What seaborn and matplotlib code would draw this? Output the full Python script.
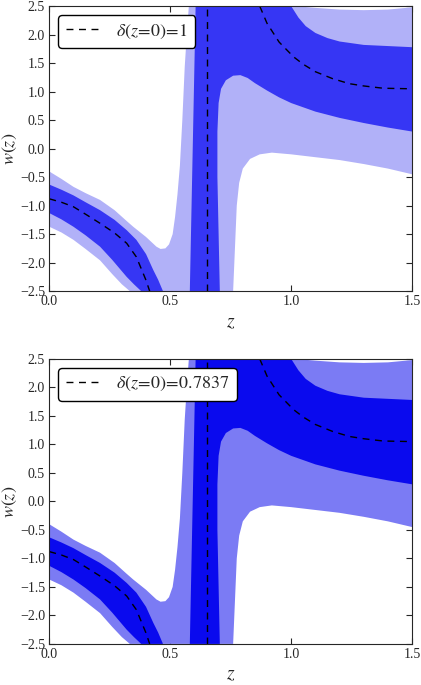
import matplotlib
matplotlib.use("Agg")
import matplotlib.pyplot as plt
import seaborn as sns
import numpy as np

sns.set_style("ticks")
plt.rcParams['font.family'] = ['Liberation Serif', 'DejaVu Serif']
plt.rcParams['mathtext.fontset'] = 'stix'

# 2-sigma (light) region outline
light_z = [0.0, 0.05, 0.10, 0.15, 0.21, 0.26, 0.30, 0.333,
           0.76, 0.765, 0.77, 0.775, 0.785, 0.80, 0.83, 0.87, 0.92, 1.0, 1.1, 1.2, 1.3, 1.4, 1.5,
           1.5, 1.4, 1.3, 1.2, 1.1, 1.02,
           0.577, 0.57, 0.56, 0.55, 0.54, 0.53, 0.52, 0.51, 0.495, 0.48, 0.46, 0.443, 0.40, 0.347,
           0.32, 0.27, 0.21, 0.15, 0.10, 0.05, 0.0]
light_w = [-1.37, -1.47, -1.60, -1.76, -1.96, -2.20, -2.38, -2.5,
           -2.5, -2.0, -1.5, -1.0, -0.6, -0.35, -0.18, -0.10, -0.07, -0.10, -0.15, -0.20, -0.27, -0.35, -0.45,
           2.48, 2.44, 2.43, 2.44, 2.47, 2.5,
           2.5, 2.1, 1.44, 0.5, -0.3, -0.8, -1.2, -1.5, -1.68, -1.75, -1.76, -1.72, -1.55, -1.37,
           -1.27, -1.08, -0.90, -0.78, -0.67, -0.53, -0.40]
# 1-sigma (dark) left branch
darkL_z = [0.0, 0.05, 0.10, 0.15, 0.21, 0.27, 0.32, 0.36, 0.40, 0.43, 0.45, 0.47,
           0.38, 0.35, 0.32, 0.26, 0.21, 0.15, 0.10, 0.05, 0.0]
darkL_w = [-0.63, -0.72, -0.82, -0.94, -1.08, -1.25, -1.43, -1.60, -1.85, -2.13, -2.30, -2.5,
           -2.5, -2.38, -2.25, -1.95, -1.72, -1.52, -1.37, -1.24, -1.13]
# 1-sigma (dark) column + right branch
darkR_z = [0.581, 0.605, 1.0, 1.03, 1.06, 1.10, 1.15, 1.20, 1.30, 1.40, 1.5,
           1.5, 1.4, 1.3, 1.2, 1.1, 1.0, 0.95, 0.90, 0.85, 0.82, 0.79, 0.76, 0.73, 0.71, 0.70,
           0.695, 0.695, 0.70, 0.705]
darkR_w = [-2.5, 2.5, 2.5, 2.30, 2.15, 2.03, 1.94, 1.88, 1.82, 1.80, 1.78,
           0.30, 0.37, 0.45, 0.54, 0.65, 0.80, 0.90, 1.02, 1.15, 1.24, 1.29, 1.28, 1.20, 1.05, 0.80,
           0.3, -0.5, -1.5, -2.5]
# best fit (dashed)
fitL_z = [0.0, 0.05, 0.10, 0.15, 0.21, 0.27, 0.32, 0.36, 0.40, 0.415]
fitL_w = [-0.88, -0.94, -1.02, -1.15, -1.31, -1.48, -1.66, -1.90, -2.31, -2.5]
fitR_z = [0.87, 0.90, 0.95, 1.01, 1.05, 1.10, 1.17, 1.24, 1.30, 1.38, 1.5]
fitR_w = [2.5, 2.2, 1.87, 1.61, 1.48, 1.35, 1.23, 1.14, 1.10, 1.06, 1.05]
pole_z = 0.65
labels = [r'$\delta(z\!=\!0)\!=\!1$', r'$\delta(z\!=\!0)\!=\!0.7837$']
light_cols = ['#b1b1f8', '#7b7bf4']
dark_cols = ['#3636f4', '#0a0aee']

fig = plt.figure(figsize=(4.21, 6.85), dpi=100)
rects = [[0.117, 0.575, 0.862, 0.416], [0.117, 0.060, 0.862, 0.416]]
for i in range(2):
    ax = fig.add_axes(rects[i])
    ax.fill(light_z, light_w, color=light_cols[i], lw=0)
    ax.fill(darkL_z, darkL_w, color=dark_cols[i], lw=0)
    ax.fill(darkR_z, darkR_w, color=dark_cols[i], lw=0)
    sns.lineplot(x=fitL_z, y=fitL_w, ax=ax, color='k', lw=1, label=labels[i], sort=False)
    sns.lineplot(x=fitR_z, y=fitR_w, ax=ax, color='k', lw=1, sort=False)
    for ln in ax.lines:
        ln.set_dashes((5, 4))
    ax.axvline(pole_z, color='k', lw=1, dashes=(5, 4))
    ax.set_xlim(0, 1.5)
    ax.set_ylim(-2.5, 2.5)
    ax.set_xticks([0.0, 0.5, 1.0, 1.5])
    ax.set_yticks(np.arange(-2.5, 2.51, 0.5))
    ax.tick_params(direction='in', top=True, right=True, labelsize=10, length=4, pad=3)
    ax.set_xlabel(r'$z$', fontsize=14)
    ax.set_ylabel(r'$w(z)$', fontsize=13, labelpad=1)
    leg = ax.legend(loc='upper left', fontsize=13, frameon=True, fancybox=True, framealpha=1,
                    edgecolor='k', handlelength=2)
    leg.get_frame().set_linewidth(1)
    for h in leg.get_lines():
        h.set_dashes((5, 4))
fig.savefig('out.png', dpi=100)
